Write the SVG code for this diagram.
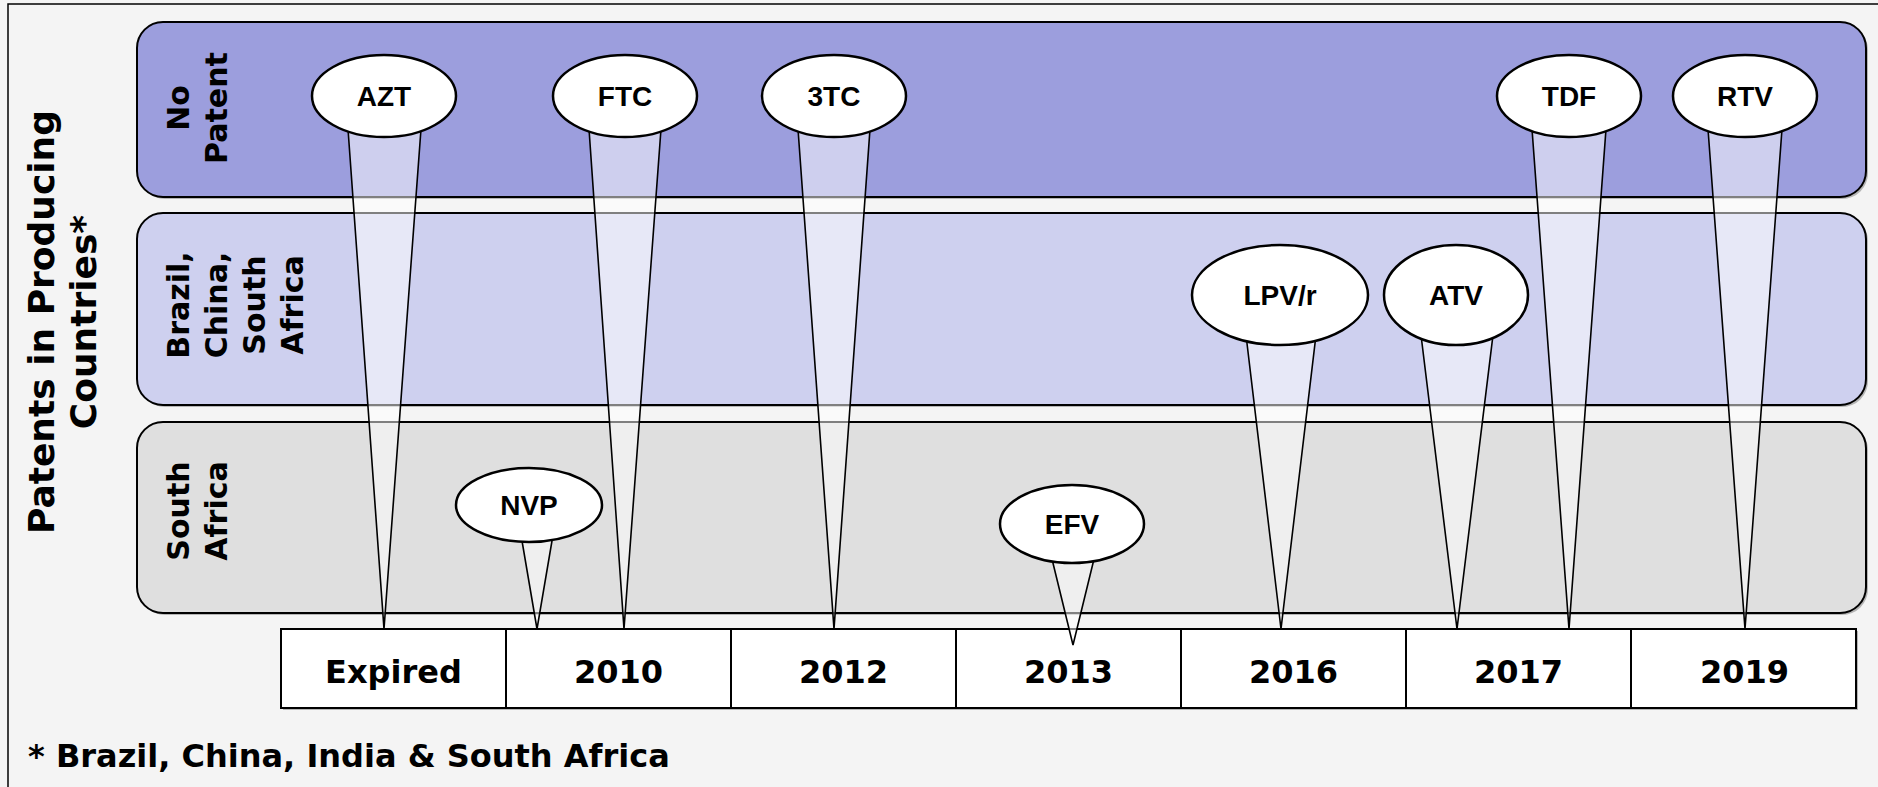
<svg xmlns="http://www.w3.org/2000/svg" width="1878" height="787" viewBox="0 0 1878 787">
<defs>
<style>
.lane{stroke:#000;stroke-width:2}
.shadow{fill:#8a8a8a;opacity:0.6}
.lbl{font-family:"DejaVu Sans",Verdana,sans-serif;font-weight:bold;font-size:30px;fill:#000;text-anchor:middle}
.title{font-family:"DejaVu Sans",Verdana,sans-serif;font-weight:bold;font-size:36px;fill:#000;text-anchor:middle}
.cell{fill:#fff;stroke:#000;stroke-width:2}
.yr{font-family:"DejaVu Sans",Verdana,sans-serif;font-weight:bold;font-size:32px;fill:#000;text-anchor:middle}
.tail{fill:#fff;fill-opacity:0.5;stroke:#000;stroke-width:1.6;stroke-linejoin:miter}
.bub{fill:#fff;stroke:#000;stroke-width:2.5}
.drug{font-family:"Liberation Sans",Arial,sans-serif;font-weight:bold;font-size:28px;fill:#000;text-anchor:middle}
.note{font-family:"DejaVu Sans",Verdana,sans-serif;font-weight:bold;font-size:32px;fill:#000}
</style>
</defs>
<rect x="0" y="0" width="1878" height="787" fill="#f4f4f4"/>
<rect x="8" y="4" width="1890" height="800" fill="none" stroke="#000" stroke-width="1.5"/>

<g id="title">
<text class="title" transform="translate(0,322) rotate(-90)"><tspan x="0" y="54">Patents in Producing</tspan><tspan x="0" y="96">Countries*</tspan></text>
</g>

<g id="lane-no-patent">
<rect class="shadow" x="139" y="24" width="1729" height="175" rx="26"/>
<rect class="lane" x="137" y="22" width="1729" height="175" rx="26" fill="#9c9edd"/>
<text class="lbl" transform="translate(0,108) rotate(-90)"><tspan x="0" y="189">No</tspan><tspan x="0" y="227">Patent</tspan></text>
</g>
<g id="lane-bcsa">
<rect class="shadow" x="139" y="215" width="1729" height="192" rx="26"/>
<rect class="lane" x="137" y="213" width="1729" height="192" rx="26" fill="#ced0ef"/>
<text class="lbl" transform="translate(0,305) rotate(-90)"><tspan x="0" y="189">Brazil,</tspan><tspan x="0" y="227">China,</tspan><tspan x="0" y="265">South</tspan><tspan x="0" y="303">Africa</tspan></text>
</g>
<g id="lane-sa">
<rect class="shadow" x="139" y="424" width="1729" height="191" rx="26"/>
<rect class="lane" x="137" y="422" width="1729" height="191" rx="26" fill="#dfdfdf"/>
<text class="lbl" transform="translate(0,511) rotate(-90)"><tspan x="0" y="189">South</tspan><tspan x="0" y="227">Africa</tspan></text>
</g>

<g id="timeline">
<rect class="shadow" x="283" y="631" width="1575" height="79"/>
<rect class="cell" x="281" y="629" width="225" height="79"/>
<rect class="cell" x="506" y="629" width="225" height="79"/>
<rect class="cell" x="731" y="629" width="225" height="79"/>
<rect class="cell" x="956" y="629" width="225" height="79"/>
<rect class="cell" x="1181" y="629" width="225" height="79"/>
<rect class="cell" x="1406" y="629" width="225" height="79"/>
<rect class="cell" x="1631" y="629" width="225" height="79"/>
<text class="yr" x="393.5" y="683">Expired</text>
<text class="yr" x="618.5" y="683">2010</text>
<text class="yr" x="843.5" y="683">2012</text>
<text class="yr" x="1068.5" y="683">2013</text>
<text class="yr" x="1293.5" y="683">2016</text>
<text class="yr" x="1518.5" y="683">2017</text>
<text class="yr" x="1744.5" y="683">2019</text>
</g>

<g id="connectors">
<polygon class="tail" points="348,129 384,629 421,129"/>
<polygon class="tail" points="589,129 624,629 661,129"/>
<polygon class="tail" points="798,129 834,629 870,129"/>
<polygon class="tail" points="1532,129 1569,629 1606,129"/>
<polygon class="tail" points="1708,129 1745,629 1782,129"/>
<polygon class="tail" points="1246,335 1281,629 1316,335"/>
<polygon class="tail" points="1421,335 1457,629 1493,335"/>
<polygon class="tail" points="521,535 537,629 553,535"/>
<polygon class="tail" points="1051,555 1073,645 1095,555"/>
</g>

<g id="node-azt"><ellipse class="bub" cx="384" cy="96" rx="72" ry="41"/><text class="drug" x="384" y="106">AZT</text></g>
<g id="node-ftc"><ellipse class="bub" cx="625" cy="96" rx="72" ry="41"/><text class="drug" x="625" y="106">FTC</text></g>
<g id="node-3tc"><ellipse class="bub" cx="834" cy="96" rx="72" ry="41"/><text class="drug" x="834" y="106">3TC</text></g>
<g id="node-tdf"><ellipse class="bub" cx="1569" cy="96" rx="72" ry="41"/><text class="drug" x="1569" y="106">TDF</text></g>
<g id="node-rtv"><ellipse class="bub" cx="1745" cy="96" rx="72" ry="41"/><text class="drug" x="1745" y="106">RTV</text></g>
<g id="node-lpvr"><ellipse class="bub" cx="1280" cy="295" rx="88" ry="50"/><text class="drug" x="1280" y="305">LPV/r</text></g>
<g id="node-atv"><ellipse class="bub" cx="1456" cy="295" rx="72" ry="50"/><text class="drug" x="1456" y="305">ATV</text></g>
<g id="node-nvp"><ellipse class="bub" cx="529" cy="505" rx="73" ry="37"/><text class="drug" x="529" y="515">NVP</text></g>
<g id="node-efv"><ellipse class="bub" cx="1072" cy="524" rx="72" ry="39"/><text class="drug" x="1072" y="534">EFV</text></g>

<g id="footnote">
<text class="note" x="28" y="767">* Brazil, China, India &amp; South Africa</text>
</g>
</svg>
